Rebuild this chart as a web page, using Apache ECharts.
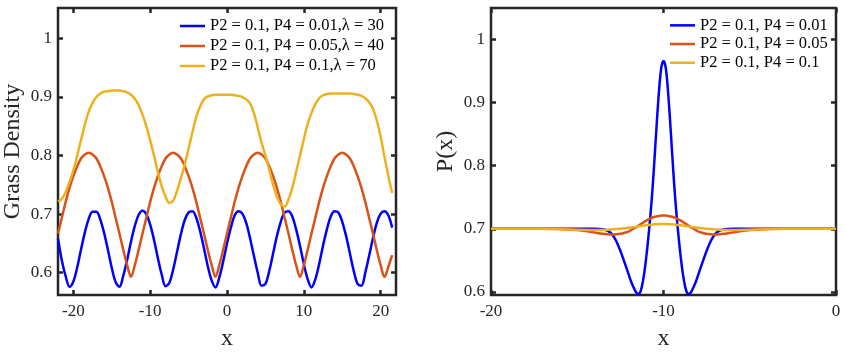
<!DOCTYPE html>
<html><head><meta charset="utf-8">
<script src="https://cdn.jsdelivr.net/npm/echarts@6/dist/echarts.min.js"></script>
<style>html,body{margin:0;padding:0;background:#fff}#c{width:846px;height:356px}</style>
</head><body><div id="c"></div>
<script>
// ---------- Left panel: Grass Density ----------
const leftX = [-22,-21.5,-21,-20.5,-20,-19.5,-19,-18.5,-18,-17.5,-17,-16.5,-16,-15.5,-15,-14.5,-14,-13.5,-13,-12.5,-12,-11.5,-11,-10.5,-10,-9.5,-9,-8.5,-8,-7.5,-7,-6.5,-6,-5.5,-5,-4.5,-4,-3.5,-3,-2.5,-2,-1.5,-1,-0.5,
0,0.5,1,1.5,2,2.5,3,3.5,4,4.5,5,5.5,6,6.5,7,7.5,8,8.5,9,9.5,10,10.5,11,11.5,12,12.5,13,13.5,14,14.5,15,15.5,16,16.5,17,17.5,18,18.5,19,19.5,20,20.5,21,21.5];
const leftBlue = [0.658,0.621,0.594,0.576,0.585,0.609,0.640,0.669,0.692,0.704,0.704,0.691,0.668,0.639,0.608,0.584,0.576,0.595,0.622,0.653,0.680,0.699,0.706,0.700,0.682,0.656,0.625,0.597,0.577,0.583,0.606,0.636,0.666,0.690,0.703,0.705,0.694,0.671,0.642,0.611,0.587,0.575,0.592,0.619,
0.650,0.677,0.698,0.705,0.701,0.685,0.659,0.629,0.600,0.578,0.581,0.603,0.633,0.663,0.687,0.703,0.705,0.696,0.674,0.646,0.615,0.589,0.575,0.589,0.615,0.646,0.674,0.696,0.705,0.703,0.687,0.663,0.633,0.603,0.581,0.578,0.600,0.629,0.659,0.685,0.701,0.705,0.698,0.677];
const leftOrange = [0.667,0.694,0.721,0.745,0.765,0.782,0.795,0.802,0.805,0.802,0.795,0.782,0.765,0.745,0.721,0.694,0.667,0.639,0.613,0.593,0.613,0.639,0.667,0.694,0.721,0.745,0.765,0.782,0.795,0.802,0.805,0.802,0.795,0.782,0.765,0.745,0.721,0.694,0.667,0.639,0.613,0.593,0.613,0.639,
0.667,0.694,0.721,0.745,0.765,0.782,0.795,0.802,0.805,0.802,0.795,0.782,0.765,0.745,0.721,0.694,0.667,0.639,0.613,0.593,0.613,0.639,0.667,0.694,0.721,0.745,0.765,0.782,0.795,0.802,0.805,0.802,0.795,0.782,0.765,0.745,0.721,0.694,0.667,0.639,0.613,0.593,0.610,0.630];
const leftYellow = [0.722,0.726,0.738,0.755,0.775,0.800,0.827,0.853,0.875,0.890,0.900,0.906,0.909,0.910,0.911,0.911,0.911,0.910,0.908,0.904,0.897,0.886,0.870,0.850,0.826,0.800,0.772,0.748,0.730,0.719,0.723,0.740,0.762,0.785,0.812,0.840,0.866,0.884,0.896,0.901,0.903,0.904,0.904,0.904,
0.904,0.904,0.903,0.902,0.900,0.896,0.889,0.873,0.848,0.822,0.800,0.776,0.750,0.730,0.717,0.713,0.725,0.745,0.772,0.800,0.828,0.854,0.873,0.888,0.898,0.903,0.905,0.906,0.906,0.906,0.906,0.906,0.906,0.905,0.904,0.902,0.898,0.891,0.880,0.860,0.832,0.798,0.765,0.736];
const leftNames = ['P2 = 0.1, P4 = 0.01,\u03bb = 30','P2 = 0.1, P4 = 0.05,\u03bb = 40','P2 = 0.1, P4 = 0.1,\u03bb = 70'];
const leftXTicks = [-20,-10,0,10,20];
const leftYTicks = [0.6,0.7,0.8,0.9,1];

// ---------- Right panel: P(x) ----------
const rightX = [-20,-19,-18,-17,-16,-15,-14,-13.75,-13.5,-13.25,-13,-12.75,-12.5,-12.25,-12,
-11.875,-11.75,-11.625,-11.5,-11.375,-11.25,-11.125,-11,-10.875,-10.75,-10.625,-10.5,-10.375,-10.25,-10.125,-10,
-9.875,-9.75,-9.625,-9.5,-9.375,-9.25,-9.125,-9,-8.875,-8.75,-8.625,-8.5,-8.375,-8.25,-8.125,-8,
-7.75,-7.5,-7.25,-7,-6.75,-6.5,-6.25,-6,-5,-4,-3,-2,-1,0];
const rightBlue = [0.700,0.700,0.700,0.700,0.700,0.700,0.700,0.6997,0.699,0.697,0.692,0.681,0.665,0.646,0.626,
0.616,0.608,0.601,0.597,0.598,0.609,0.628,0.655,0.687,0.724,0.768,0.820,0.874,0.922,0.956,0.966,
0.956,0.922,0.874,0.820,0.768,0.724,0.687,0.655,0.628,0.609,0.598,0.597,0.601,0.608,0.616,0.626,
0.646,0.665,0.681,0.692,0.697,0.699,0.6997,0.700,0.700,0.700,0.700,0.700,0.700,0.700];
const rightOrange = [0.700,0.700,0.700,0.700,0.6995,0.698,0.694,0.693,0.692,0.6913,0.691,0.6913,0.692,0.6937,0.696,
0.6979,0.700,0.7019,0.704,0.7062,0.7085,0.7108,0.713,0.715,0.7165,0.7179,0.719,0.7197,0.7204,0.7209,0.721,
0.7209,0.7204,0.7197,0.719,0.7179,0.7165,0.715,0.713,0.7108,0.7085,0.7062,0.704,0.7019,0.700,0.6979,0.696,
0.6937,0.692,0.6913,0.691,0.6913,0.692,0.693,0.694,0.698,0.6995,0.700,0.700,0.700,0.700];
const rightYellow = [0.700,0.700,0.700,0.6999,0.6993,0.6985,0.698,0.698,0.698,0.6985,0.699,0.6995,0.700,0.7007,0.7015,
0.702,0.7025,0.703,0.7035,0.704,0.7045,0.705,0.7055,0.7059,0.7063,0.7067,0.707,0.7072,0.7074,0.7075,0.7075,
0.7075,0.7074,0.7072,0.707,0.7067,0.7063,0.7059,0.7055,0.705,0.7045,0.704,0.7035,0.703,0.7025,0.702,0.7015,
0.7007,0.700,0.6995,0.699,0.6985,0.698,0.698,0.698,0.6985,0.6993,0.6999,0.700,0.700,0.700];
const rightNames = ['P2 = 0.1, P4 = 0.01','P2 = 0.1, P4 = 0.05','P2 = 0.1, P4 = 0.1'];
const rightXTicks = [-20,-10,0];
const rightYTicks = [0.6,0.7,0.8,0.9,1];

const colors = ['#0000ff','#d95319','#edb120'];
const FONT = 'Liberation Serif';
const AX = '#262626';

function zip(xs, ys){ return xs.map((x,i)=>[x, ys[i]]); }

const tickStyle = {inside:true, length:5, lineStyle:{color:AX, width:2.5}};
function mkX(gi, min, max, ticks, pos, withLabels, name){
  const a = {gridIndex:gi, type:'value', min:min, max:max, position:pos,
    axisLine:{show:false, onZero:false}, splitLine:{show:false},
    axisTick:Object.assign({customValues:ticks}, tickStyle),
    axisLabel:{show:withLabels, customValues:ticks, color:AX, fontFamily:FONT, fontSize:17, margin:8}};
  if (name){ a.name=name; a.nameLocation='middle'; a.nameGap=32;
    a.nameTextStyle={fontFamily:FONT, fontSize:24, color:AX}; }
  return a;
}
function mkY(gi, min, max, ticks, pos, withLabels, name){
  const a = {gridIndex:gi, type:'value', min:min, max:max, position:pos,
    axisLine:{show:false, onZero:false}, splitLine:{show:false},
    axisTick:Object.assign({customValues:ticks}, tickStyle),
    axisLabel:{show:withLabels, customValues:ticks, color:AX, fontFamily:FONT, fontSize:17, margin:6}};
  if (name){ a.name=name; a.nameLocation='middle'; a.nameGap=33;
    a.nameTextStyle={fontFamily:FONT, fontSize:24, color:AX}; }
  return a;
}
function mkSeries(name, xs, ys, c, xi, yi){
  return {name:name, type:'line', xAxisIndex:xi, yAxisIndex:yi, data:zip(xs, ys),
    symbol:'none', showSymbol:false, smooth:0.35, lineStyle:{width:2.5, color:c}, itemStyle:{color:c},
    animation:false, z:3};
}
function mkLegend(names, left, top, rowH){
  return {data:names.map(n=>({name:n, icon:'rect'})), orient:'vertical', left:left, top:top,
    itemWidth:25, itemHeight:2.5, itemGap:0, padding:0,
    textStyle:{fontFamily:FONT, fontSize:16.5, color:'#000', lineHeight:rowH}};
}

const chart = echarts.init(document.getElementById('c'));
chart.setOption({
  animation:false,
  backgroundColor:'#fff',
  grid:[
    {left:58, top:8, width:338, height:291, show:true, borderColor:AX, borderWidth:2.5},
    {left:491, top:8, width:345, height:291, show:true, borderColor:AX, borderWidth:2.5}
  ],
  xAxis:[
    mkX(0, -22, 22, leftXTicks, 'bottom', true, 'x'),
    mkX(0, -22, 22, leftXTicks, 'top', false),
    mkX(1, -20, 0, rightXTicks, 'bottom', true, 'x'),
    mkX(1, -20, 0, rightXTicks, 'top', false)
  ],
  yAxis:[
    mkY(0, 0.562, 1.052, leftYTicks, 'left', true, 'Grass Density'),
    mkY(0, 0.562, 1.052, leftYTicks, 'right', false),
    mkY(1, 0.595, 1.05, rightYTicks, 'left', true, 'P(x)'),
    mkY(1, 0.595, 1.05, rightYTicks, 'right', false)
  ],
  legend:[ mkLegend(leftNames, 180, 16, 20), mkLegend(rightNames, 670, 16, 18.7) ],
  series:[
    mkSeries(leftNames[0], leftX, leftBlue, colors[0], 0, 0),
    mkSeries(leftNames[1], leftX, leftOrange, colors[1], 0, 0),
    mkSeries(leftNames[2], leftX, leftYellow, colors[2], 0, 0),
    mkSeries(rightNames[0], rightX, rightBlue, colors[0], 2, 2),
    mkSeries(rightNames[1], rightX, rightOrange, colors[1], 2, 2),
    mkSeries(rightNames[2], rightX, rightYellow, colors[2], 2, 2)
  ]
});
</script></body></html>
